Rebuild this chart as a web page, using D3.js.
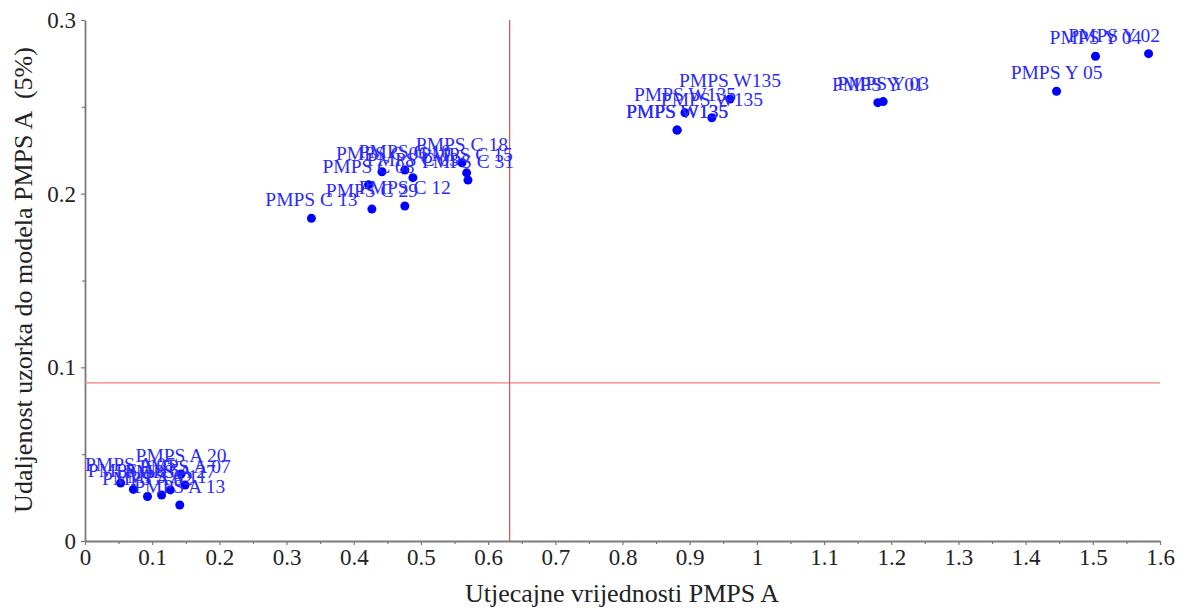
<!DOCTYPE html>
<html>
<head>
<meta charset="utf-8">
<script src="https://cdn.jsdelivr.net/npm/d3@7/dist/d3.min.js"></script>
<style>
  html, body { margin: 0; padding: 0; background: #fff; }
  svg { display: block; font-family: "Liberation Serif", "DejaVu Serif", serif; }
</style>
</head>
<body>
<svg id="chart" width="1188" height="610"></svg>
<script>
// ---- data ----
const sampleNames = [
  "PMPS A 05", "PMPS A 16", "PMPS A 02", "PMPS A 11", "PMPS A 27", "PMPS A 13", "PMPS A 07", "PMPS A 20",
  "PMPS C 13", "PMPS C 29", "PMPS C 12", "PMPS C 08", "PMPS C 06", "PMPS C 10", "PMPS C 03", "PMPS C 18", "PMPS C 15", "PMPS C 31",
  "PMPS W135", "PMPS W135", "PMPS W135", "PMPS W135", "PMPS W135",
  "PMPS Y 01", "PMPS Y 03", "PMPS Y 05", "PMPS Y 04", "PMPS Y 02"
];
const influenceValues = [
  0.053, 0.072, 0.093, 0.114, 0.127, 0.141, 0.149, 0.143,
  0.337, 0.427, 0.476, 0.422, 0.442, 0.476, 0.488, 0.561, 0.568, 0.570,
  0.881, 0.8815, 0.893, 0.933, 0.960,
  1.180, 1.188, 1.446, 1.504, 1.583
];
const distanceValues = [
  0.0334, 0.0297, 0.0256, 0.0265, 0.0294, 0.0207, 0.0322, 0.0386,
  0.1858, 0.1911, 0.1929, 0.2052, 0.2126, 0.2136, 0.2092, 0.2178, 0.2120, 0.2078,
  0.2366, 0.2366, 0.2466, 0.2437, 0.2545,
  0.2524, 0.2530, 0.2590, 0.2791, 0.2806
];
const xTickValues = [0, 0.1, 0.2, 0.3, 0.4, 0.5, 0.6, 0.7, 0.8, 0.9, 1, 1.1, 1.2, 1.3, 1.4, 1.5, 1.6];
const yTickValues = [0, 0.1, 0.2, 0.3];
const xLimit = 0.632;   // critical influence value
const yLimit = 0.091;   // critical distance (5%)
const xTitle = "Utjecajne vrijednosti PMPS A";
const yTitle = "Udaljenost uzorka do modela PMPS A  (5%)";

// ---- layout ----
const svg = d3.select("#chart");
const plotL = 85, plotR = 1160, plotT = 20, plotB = 541;
const x = d3.scaleLinear().domain([0, 1.6]).range([plotL, plotR]);
const y = d3.scaleLinear().domain([0, 0.3]).range([plotB, plotT]);
const axisColor = "#7a7a7a";
const serif = "'Liberation Serif', 'DejaVu Serif', serif";
const fmt = d => String(+d.toFixed(1));

// minor ticks
svg.append("g").attr("transform", `translate(0,${plotB})`)
  .call(d3.axisBottom(x).tickValues(d3.range(0.05, 1.6, 0.1)).tickSize(3).tickFormat(""))
  .call(g => g.select(".domain").remove())
  .call(g => g.selectAll("line").attr("stroke", axisColor).attr("stroke-width", 1.2));
svg.append("g").attr("transform", `translate(${plotL},0)`)
  .call(d3.axisLeft(y).tickValues([0.05, 0.15, 0.25]).tickSize(3).tickFormat(""))
  .call(g => g.select(".domain").remove())
  .call(g => g.selectAll("line").attr("stroke", axisColor).attr("stroke-width", 1.2));

// major axes
const xAxis = svg.append("g").attr("transform", `translate(0,${plotB})`)
  .call(d3.axisBottom(x).tickValues(xTickValues).tickSize(4).tickSizeOuter(0).tickPadding(4).tickFormat(fmt));
const yAxis = svg.append("g").attr("transform", `translate(${plotL},0)`)
  .call(d3.axisLeft(y).tickValues(yTickValues).tickSize(4).tickSizeOuter(0).tickPadding(5).tickFormat(fmt));
[xAxis, yAxis].forEach(g => {
  g.attr("font-family", serif).attr("font-size", 23);
  g.select(".domain").attr("stroke", axisColor).attr("stroke-width", 1.8);
  g.selectAll(".tick line").attr("stroke", axisColor).attr("stroke-width", 1.2);
  g.selectAll(".tick text").attr("fill", "#222");
});

// reference lines
svg.append("line")
  .attr("x1", x(0)).attr("x2", x(1.6)).attr("y1", y(yLimit)).attr("y2", y(yLimit))
  .attr("stroke", "#f08080").attr("stroke-width", 1.2);
svg.append("line")
  .attr("x1", x(xLimit)).attr("x2", x(xLimit)).attr("y1", y(0)).attr("y2", y(0.3))
  .attr("stroke", "#d85050").attr("stroke-width", 1.2);

// points
const pts = sampleNames.map((n, i) => ({ name: n, x: influenceValues[i], y: distanceValues[i] }));
svg.append("g").selectAll("circle").data(pts).join("circle")
  .attr("cx", d => x(d.x)).attr("cy", d => y(d.y)).attr("r", 4.5)
  .attr("fill", "#0000ff");

// labels
const lab = svg.append("g").selectAll("text").data(pts).join("text")
  .attr("x", d => x(d.x)).attr("y", d => y(d.y) - 12)
  .attr("text-anchor", "middle")
  .attr("fill", "#2a2aff")
  .style("font-size", "19.5px")
  .text(d => d.name);
lab.each(function(d) {
  const w = this.getComputedTextLength();
  let cx = x(d.x);
  if (cx + w / 2 > plotR) cx = plotR - w / 2;
  if (cx - w / 2 < plotL) cx = plotL + w / 2;
  d3.select(this).attr("x", cx);
});

// titles
svg.append("text")
  .attr("x", 622).attr("y", 602)
  .attr("text-anchor", "middle").attr("fill", "#222")
  .style("font-size", "26px")
  .text(xTitle);
svg.append("text")
  .attr("transform", `translate(32,280) rotate(-90)`)
  .attr("text-anchor", "middle").attr("fill", "#222")
  .style("font-size", "26px").style("white-space", "pre")
  .text(yTitle);
</script>
</body>
</html>
